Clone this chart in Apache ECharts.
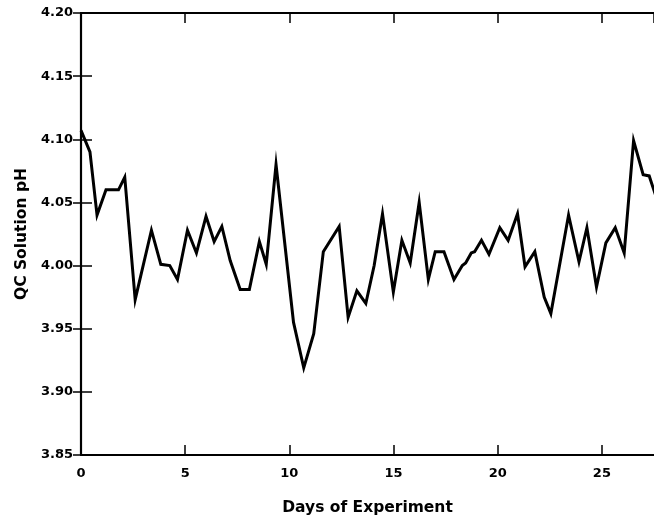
<!DOCTYPE html>
<html>
<head>
<meta charset="utf-8">
<script src="https://cdn.jsdelivr.net/npm/echarts@6/dist/echarts.min.js"></script>
<style>
html,body{margin:0;padding:0;background:#fff;}
#chart{width:654px;height:521px;}
</style>
</head>
<body>
<div id="chart"></div>
<script>
// Days of experiment (x) and QC solution pH (y)
const days = [0.0, 0.43, 0.77, 1.2, 1.8, 2.1, 2.6, 3.38, 3.83, 4.26, 4.63, 5.11, 5.54,
  6.0, 6.39, 6.76, 7.16, 7.64, 8.08, 8.56, 8.89, 9.36, 10.2, 10.69, 11.17,
  11.63, 12.39, 12.82, 13.24, 13.67, 14.07, 14.47, 14.99, 15.4, 15.8, 16.23, 16.67,
  17.0, 17.42, 17.9, 18.3, 18.46, 18.73, 18.89, 19.22, 19.58, 20.1, 20.5, 20.95,
  21.31, 21.78, 22.23, 22.55, 23.4, 23.9, 24.28, 24.74, 25.19, 25.64, 26.07,
  26.52, 26.98, 27.27, 27.55, 27.8];
const ph = [4.107, 4.09, 4.04, 4.06, 4.06, 4.07, 3.973, 4.028, 4.001, 4.0, 3.989, 4.028, 4.01,
  4.039, 4.019, 4.031, 4.004, 3.981, 3.981, 4.019, 4.001, 4.08, 3.955, 3.919, 3.946,
  4.011, 4.031, 3.959, 3.98, 3.97, 4.0, 4.041, 3.979, 4.02, 4.002, 4.05, 3.989,
  4.011, 4.011, 3.989, 4.0, 4.002, 4.01, 4.011, 4.02, 4.009, 4.03, 4.02, 4.041,
  3.999, 4.011, 3.975, 3.962, 4.04, 4.003, 4.03, 3.983, 4.018, 4.03, 4.01,
  4.099, 4.072, 4.071, 4.057, 4.045];
const xTicks = [0, 5, 10, 15, 20, 25];
const yTickLabels = ['3.85', '3.90', '3.95', '4.00', '4.05', '4.10', '4.15', '4.20'];

const FONT = 'DejaVu Sans';
const chart = echarts.init(document.getElementById('chart'), null, {renderer: 'canvas'});
const lineStyle = {color: '#000', width: 2.2};
const xBase = {
  type: 'value', min: 0, max: 27.5, interval: 5,
  splitLine: {show: false},
  axisLine: {show: true, onZero: false, lineStyle: lineStyle},
  axisTick: {show: true, inside: true, length: 10, lineStyle: {color: '#000', width: 1.5}}
};
const yBase = {
  type: 'value', min: 3.85, max: 4.20, interval: 0.05,
  splitLine: {show: false},
  axisLine: {show: true, onZero: false, lineStyle: lineStyle},
  axisTick: {show: true, inside: true, length: 11, lineStyle: {color: '#000', width: 1.5}}
};
chart.setOption({
  backgroundColor: '#fff',
  animation: false,
  grid: {left: 81, top: 13, right: 0, bottom: 65},
  xAxis: [
    Object.assign({}, xBase, {
      position: 'bottom',
      name: 'Days of Experiment', nameLocation: 'middle', nameGap: 45,
      nameTextStyle: {fontFamily: FONT, fontWeight: 'bold', fontSize: 15.5, color: '#000'},
      axisLabel: {
        show: true, margin: 12, showMaxLabel: false,
        fontFamily: FONT, fontWeight: 'bold', fontSize: 13, color: '#000',
        formatter: v => (xTicks.indexOf(v) >= 0 ? String(v) : '')
      }
    }),
    Object.assign({}, xBase, {position: 'top', axisLabel: {show: false}})
  ],
  yAxis: [
    Object.assign({}, yBase, {
      position: 'left',
      name: 'QC Solution pH', nameLocation: 'middle', nameGap: 50,
      nameTextStyle: {fontFamily: FONT, fontWeight: 'bold', fontSize: 15.5, color: '#000'},
      axisLabel: {
        show: true, margin: 8,
        fontFamily: FONT, fontWeight: 'bold', fontSize: 13, color: '#000',
        formatter: v => {
          const s = v.toFixed(2);
          return yTickLabels.indexOf(s) >= 0 ? s : '';
        }
      }
    }),
    Object.assign({}, yBase, {
      position: 'right', axisLabel: {show: false},
      axisLine: {show: false},
      axisTick: {show: true, inside: true, length: 8, lineStyle: {color: '#000', width: 1.5}}
    })
  ],
  series: [{
    type: 'line',
    data: days.map((d, i) => [d, ph[i]]),
    showSymbol: false,
    symbol: 'none',
    clip: true,
    lineStyle: {color: '#000', width: 3, join: 'miter'},
    itemStyle: {color: '#000'}
  }]
});
</script>
</body>
</html>
